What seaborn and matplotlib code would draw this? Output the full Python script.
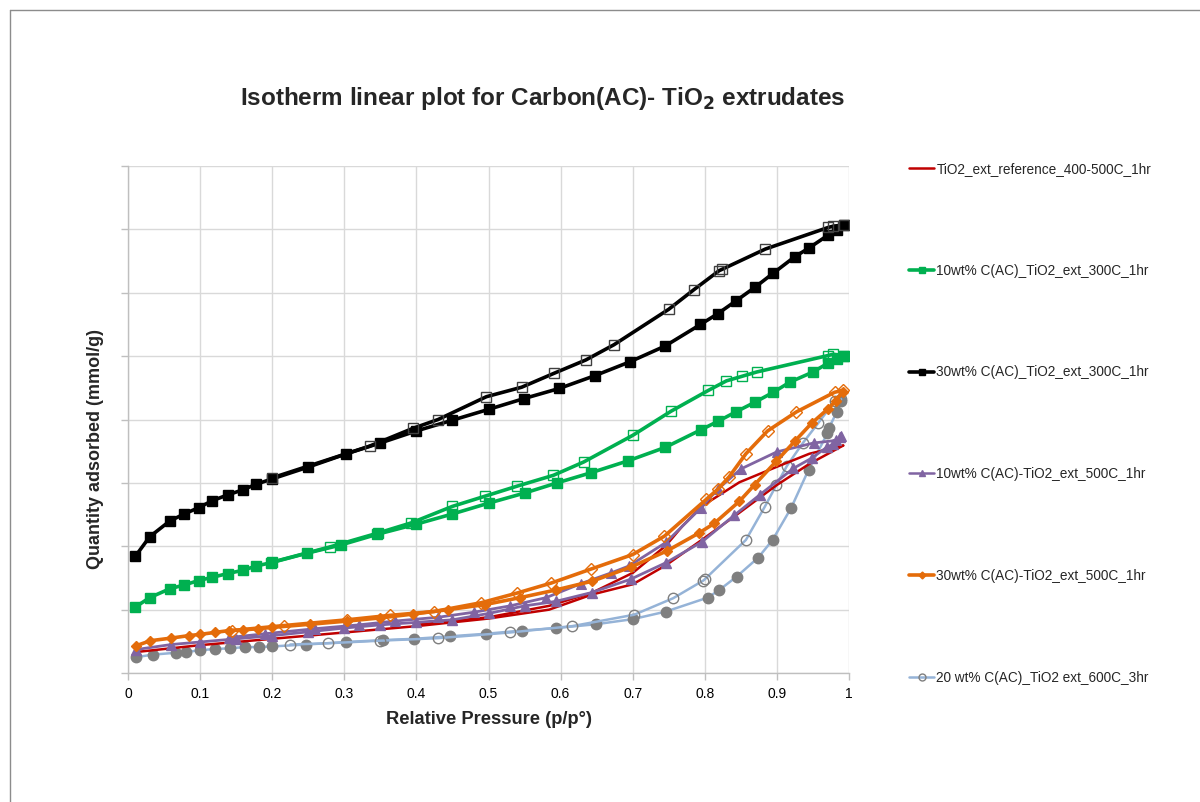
import numpy as np
import pandas as pd
import matplotlib
matplotlib.use("Agg")
import matplotlib.pyplot as plt
from matplotlib.lines import Line2D
import seaborn as sns

# ---------------- data ----------------
# y values are in "gridline units" (y axis carries no tick labels)
ref_ads_x = [0.01, 0.1, 0.2, 0.3, 0.4, 0.5, 0.584, 0.644, 0.70, 0.746, 0.797, 0.848, 0.899, 0.945, 0.992]
ref_ads_y = [0.33, 0.44, 0.54, 0.64, 0.74, 0.86, 1.00, 1.24, 1.40, 1.70, 2.11, 2.53, 2.96, 3.30, 3.59]
ref_des_x = [0.992, 0.945, 0.899, 0.848, 0.797, 0.769, 0.746, 0.70, 0.644, 0.584, 0.5, 0.4]
ref_des_y = [3.59, 3.46, 3.25, 3.01, 2.64, 2.32, 2.01, 1.58, 1.27, 1.06, 0.88, 0.76]

g10_ads_x = [0.01, 0.03, 0.058, 0.078, 0.098, 0.117, 0.138, 0.159, 0.178, 0.198, 0.248, 0.295,
             0.346, 0.40, 0.45, 0.50, 0.55, 0.595, 0.642, 0.694, 0.745, 0.795, 0.818, 0.843,
             0.869, 0.895, 0.918, 0.95, 0.971, 0.983, 0.993]
g10_ads_y = [1.04, 1.19, 1.33, 1.39, 1.46, 1.51, 1.57, 1.62, 1.69, 1.74, 1.89, 2.02,
             2.19, 2.35, 2.51, 2.68, 2.84, 3.00, 3.16, 3.35, 3.56, 3.84, 3.97, 4.12,
             4.27, 4.43, 4.59, 4.75, 4.89, 4.96, 5.01]
g10_des_x = [0.993, 0.978, 0.971, 0.872, 0.851, 0.830, 0.805, 0.753, 0.70, 0.632, 0.59, 0.54,
             0.495, 0.45, 0.393, 0.347, 0.28, 0.20]
g10_des_y = [5.01, 5.03, 5.01, 4.75, 4.68, 4.61, 4.46, 4.13, 3.75, 3.33, 3.12, 2.95,
             2.79, 2.63, 2.37, 2.21, 1.99, 1.75]

b30_ads_x = [0.01, 0.03, 0.058, 0.078, 0.098, 0.117, 0.138, 0.159, 0.178, 0.199, 0.25, 0.303,
             0.35, 0.40, 0.45, 0.50, 0.549, 0.598, 0.647, 0.696, 0.745, 0.794, 0.818, 0.843,
             0.870, 0.895, 0.925, 0.945, 0.971, 0.983, 0.993]
b30_ads_y = [1.84, 2.15, 2.40, 2.51, 2.61, 2.72, 2.81, 2.89, 2.98, 3.06, 3.25, 3.46,
             3.63, 3.82, 3.99, 4.16, 4.33, 4.49, 4.69, 4.91, 5.16, 5.50, 5.67, 5.87,
             6.09, 6.31, 6.57, 6.71, 6.91, 6.99, 7.07]
b30_des_x = [0.993, 0.978, 0.971, 0.884, 0.824, 0.820, 0.785, 0.750, 0.674, 0.635, 0.591,
             0.546, 0.497, 0.43, 0.395, 0.335, 0.20]
b30_des_y = [7.07, 7.05, 7.03, 6.69, 6.37, 6.35, 6.05, 5.74, 5.18, 4.94, 4.73,
             4.51, 4.36, 4.00, 3.86, 3.58, 3.08]

p10_ads_x = [0.011, 0.06, 0.10, 0.15, 0.20, 0.25, 0.30, 0.35, 0.40, 0.45, 0.50, 0.55, 0.593,
             0.643, 0.697, 0.746, 0.796, 0.841, 0.876, 0.923, 0.948, 0.969, 0.978, 0.988]
p10_ads_y = [0.37, 0.45, 0.49, 0.54, 0.59, 0.65, 0.71, 0.76, 0.80, 0.84, 0.94, 1.06, 1.13,
             1.27, 1.48, 1.74, 2.07, 2.49, 2.81, 3.23, 3.39, 3.56, 3.61, 3.72]
p10_des_x = [0.989, 0.982, 0.951, 0.90, 0.85, 0.818, 0.795, 0.746, 0.695, 0.67, 0.628, 0.58,
             0.53, 0.48, 0.43, 0.37, 0.32, 0.26, 0.19, 0.14]
p10_des_y = [3.74, 3.67, 3.63, 3.49, 3.22, 2.90, 2.61, 2.06, 1.69, 1.58, 1.41, 1.19,
             1.06, 0.96, 0.88, 0.82, 0.76, 0.70, 0.62, 0.56]

o30_ads_x = [0.011, 0.031, 0.059, 0.084, 0.10, 0.12, 0.14, 0.16, 0.18, 0.20, 0.253, 0.304,
             0.35, 0.395, 0.444, 0.495, 0.544, 0.593, 0.644, 0.697, 0.748, 0.792, 0.813,
             0.848, 0.869, 0.899, 0.925, 0.948, 0.971, 0.982, 0.991]
o30_ads_y = [0.43, 0.51, 0.55, 0.59, 0.61, 0.64, 0.67, 0.68, 0.70, 0.72, 0.77, 0.82,
             0.87, 0.93, 1.00, 1.08, 1.19, 1.31, 1.45, 1.67, 1.93, 2.21, 2.36,
             2.71, 2.97, 3.34, 3.66, 3.94, 4.17, 4.30, 4.43]
o30_des_x = [0.991, 0.98, 0.927, 0.887, 0.857, 0.834, 0.818, 0.802, 0.744, 0.70, 0.642,
             0.587, 0.539, 0.49, 0.424, 0.363, 0.304, 0.217, 0.144]
o30_des_y = [4.46, 4.43, 4.12, 3.82, 3.46, 3.10, 2.90, 2.74, 2.16, 1.87, 1.64,
             1.42, 1.26, 1.11, 0.97, 0.91, 0.84, 0.75, 0.67]

c20_ads_x = [0.011, 0.034, 0.066, 0.08, 0.10, 0.121, 0.141, 0.162, 0.181, 0.20, 0.247, 0.303,
             0.354, 0.397, 0.447, 0.497, 0.546, 0.594, 0.649, 0.70, 0.746, 0.804, 0.82,
             0.844, 0.874, 0.894, 0.92, 0.944, 0.97, 0.972, 0.983, 0.989]
c20_ads_y = [0.25, 0.29, 0.32, 0.33, 0.36, 0.38, 0.39, 0.41, 0.41, 0.42, 0.45, 0.49,
             0.52, 0.54, 0.58, 0.62, 0.67, 0.71, 0.77, 0.85, 0.97, 1.19, 1.31,
             1.52, 1.82, 2.10, 2.61, 3.21, 3.78, 3.86, 4.12, 4.30]
c20_des_x = [0.989, 0.981, 0.957, 0.936, 0.914, 0.899, 0.883, 0.857, 0.80, 0.798, 0.756,
             0.702, 0.616, 0.53, 0.43, 0.349, 0.278, 0.225]
c20_des_y = [4.32, 4.30, 3.94, 3.63, 3.27, 2.96, 2.62, 2.10, 1.48, 1.46, 1.18,
             0.92, 0.74, 0.64, 0.55, 0.51, 0.47, 0.45]

labels = ["TiO2_ext_reference_400-500C_1hr",
          "10wt% C(AC)_TiO2_ext_300C_1hr",
          "30wt% C(AC)_TiO2_ext_300C_1hr",
          "10wt% C(AC)-TiO2_ext_500C_1hr",
          "30wt% C(AC)-TiO2_ext_500C_1hr",
          "20 wt% C(AC)_TiO2 ext_600C_3hr"]
x_ticks = [0, 0.1, 0.2, 0.3, 0.4, 0.5, 0.6, 0.7, 0.8, 0.9, 1]
x_tick_labels = ["0", "0.1", "0.2", "0.3", "0.4", "0.5", "0.6", "0.7", "0.8", "0.9", "1"]

# ---------------- style ----------------
sns.set_style("white")
plt.rcParams["font.family"] = ["Liberation Sans", "DejaVu Sans"]

fig = plt.figure(figsize=(12, 8.02), dpi=100)
ax = fig.add_axes([0.1067, 0.1608, 0.6008, 0.6322])

RED = "#C00000"
GREEN = "#00B050"
BLACK = "#000000"
PURPLE = "#8064A2"
ORANGE = "#E46C0A"
LBLUE = "#95B3D7"
GRAY = "#7F7F7F"


def draw(x, y, color, lw, marker=None, ms=6, mfc=None, mec=None, mew=1.0, z=2):
    kw = dict(color=color, linewidth=lw, zorder=z)
    if marker is not None:
        kw.update(marker=marker, markersize=ms,
                  markerfacecolor=mfc if mfc is not None else color,
                  markeredgecolor=mec if mec is not None else color,
                  markeredgewidth=mew)
    sns.lineplot(x=x, y=y, sort=False, estimator=None, ax=ax, legend=False, **kw)


# 20 wt% 600C
draw(c20_ads_x, c20_ads_y, LBLUE, 1.8, "o", 7.5, GRAY, GRAY, z=3)
draw(c20_des_x, c20_des_y, LBLUE, 1.8, "o", 7.5, "none", GRAY, 1.0, z=3)
# reference
draw(ref_ads_x, ref_ads_y, RED, 1.8, z=4)
draw(ref_des_x, ref_des_y, RED, 1.8, z=4)
# 10wt% 500C
draw(p10_ads_x, p10_ads_y, PURPLE, 2.0, "^", 6.5, PURPLE, PURPLE, z=5)
draw(p10_des_x, p10_des_y, PURPLE, 2.0, "^", 6.5, PURPLE, PURPLE, 0.8, z=5)
# 30wt% 500C
draw(o30_ads_x, o30_ads_y, ORANGE, 2.6, "D", 5.0, ORANGE, ORANGE, z=6)
draw(o30_des_x, o30_des_y, ORANGE, 2.6, "D", 6.0, "none", ORANGE, 1.0, z=6)
# 10wt% 300C
draw(g10_ads_x, g10_ads_y, GREEN, 2.6, "s", 7.0, GREEN, GREEN, z=7)
draw(g10_des_x, g10_des_y, GREEN, 2.6, "s", 7.0, "none", GREEN, 1.0, z=7)
# 30wt% 300C
draw(b30_ads_x, b30_ads_y, BLACK, 2.6, "s", 7.0, BLACK, BLACK, z=8)
draw(b30_des_x, b30_des_y, BLACK, 2.6, "s", 7.0, "none", "#404040", 1.0, z=8)

# ---------------- axes ----------------
ax.set_xlim(0, 1)
ax.set_ylim(0, 8)
ax.set_xticks(x_ticks)
ax.set_xticklabels(x_tick_labels, fontsize=10)
ax.set_yticks(np.arange(0, 9, 1))
ax.set_yticklabels([])
ax.grid(True, color="#D9D9D9", linewidth=1.0)
ax.set_axisbelow(True)
for s in ["top", "right"]:
    ax.spines[s].set_visible(False)
for s in ["left", "bottom"]:
    ax.spines[s].set_color("#BFBFBF")
    ax.spines[s].set_linewidth(1.0)
ax.tick_params(axis="both", direction="out", length=5, width=1, color="#BFBFBF",
               labelcolor="#000000", left=True, bottom=True)
ax.tick_params(axis="x", pad=5)

ax.set_xlabel("Relative Pressure (p/p°)", fontsize=13.2, fontweight="bold", labelpad=7)
ax.set_ylabel("Quantity adsorbed (mmol/g)", fontsize=13, fontweight="bold")
ax.yaxis.set_label_coords(-0.033, 0.442)

fig.text(0.452, 0.8766, "Isotherm linear plot for Carbon(AC)- TiO$_\\mathbf{2}$ extrudates",
         ha="center", va="center", fontsize=17.5, fontweight="bold")

# ---------------- legend ----------------
handles = [
    Line2D([], [], color=RED, lw=1.8),
    Line2D([], [], color=GREEN, lw=2.6, marker="s", ms=5, mfc=GREEN, mec=GREEN),
    Line2D([], [], color=BLACK, lw=2.6, marker="s", ms=5, mfc=BLACK, mec=BLACK),
    Line2D([], [], color=PURPLE, lw=1.8, marker="^", ms=5, mfc=PURPLE, mec=PURPLE),
    Line2D([], [], color=ORANGE, lw=2.6, marker="D", ms=3.5, mfc=ORANGE, mec=ORANGE),
    Line2D([], [], color=LBLUE, lw=1.8, marker="o", ms=5, mfc="none", mec=GRAY),
]
fig.legend(handles, labels, loc="upper left", bbox_to_anchor=(0.753, 0.805),
           frameon=False, fontsize=9.8, labelspacing=6.45, handlelength=1.85,
           handletextpad=0.15, borderaxespad=0)

# outer chart border (partially visible in reference)
fig.add_artist(Line2D([0.0085, 1.0], [0.9875, 0.9875], transform=fig.transFigure,
                      color="#8C8C8C", lw=1.0))
fig.add_artist(Line2D([0.0085, 0.0085], [0.0, 0.9875], transform=fig.transFigure,
                      color="#8C8C8C", lw=1.0))

fig.savefig("out.png", dpi=100)
